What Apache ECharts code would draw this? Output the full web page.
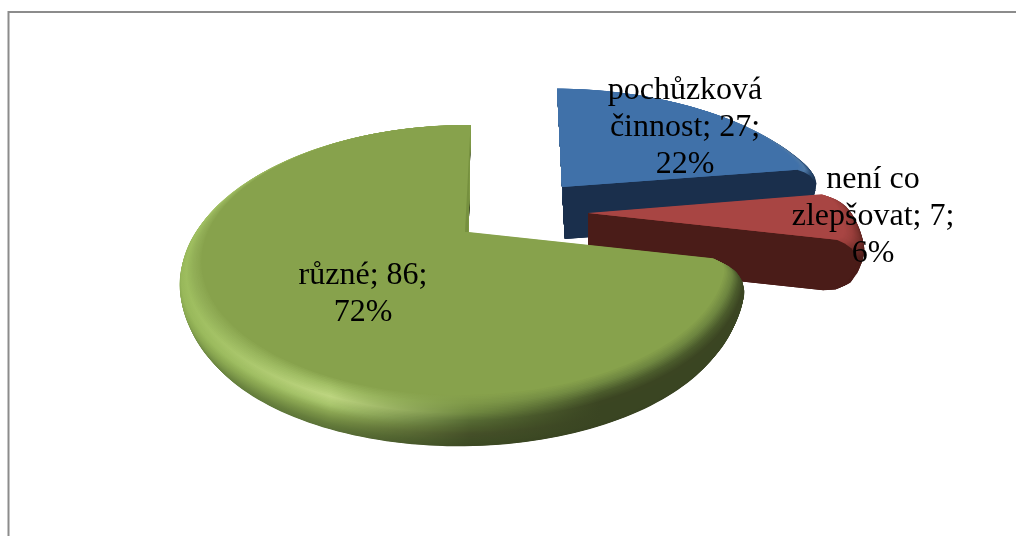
<!DOCTYPE html>
<html><head><meta charset="utf-8">
<style>html,body{margin:0;padding:0;background:#fff}#c{width:1016px;height:536px}</style>
<script src="https://cdn.jsdelivr.net/npm/echarts@6/dist/echarts.min.js"></script>
</head><body><div id="c"></div>
<script>
const categories = ['pochůzková činnost', 'není co zlepšovat', 'různé'];
const values = [27, 7, 86];
const percents = [22, 6, 72];

// Appearance and layout of the tilted 3D pie
const FONT = '"Liberation Serif","Times New Roman",serif';
const labelLines = [['pochůzková', 'činnost; {v};', '{p}%'], ['není co', 'zlepšovat; {v};', '{p}%'], ['různé; {v};', '{p}%']];
const labelAt = [[685, 128], [873, 217], [363, 294]];
const apexAt = [[562, 187], [588, 213], [468.5, 232]];
const sliceScaleY = [0.92, 1, 1];
const sliceLean = [6, 0, -2.5];
const sliceShear = [0.052, 0, -0.015];
const sliceRound = [0.025, 0.035, 0.05];
const roundEnds = [[false, true], [true, true], [true, false]];
const ROUND_DEG = 6;
const RX = 256.5, RY = 129.2, K = 0.2075, M = 0.016;
const rimZ = [52, 50, 45, 35, 25, 18, 12, 7, 3, 0];
const rimR = [0.95, 0.995, 1.03, 1.055, 1.07, 1.075, 1.07, 1.055, 1.03, 1.0];
const greenX = [180, 330, 470, 600, 745];
const greenShades = [
  ['#63803c', '#566a35', '#3a4722', '#363f20', '#363f20'],
  ['#63803c', '#566a35', '#3a4722', '#363f20', '#363f20'],
  ['#678540', '#5a7037', '#3c4923', '#384221', '#384221'],
  ['#6f8a42', '#637a3a', '#3f4d25', '#3a4522', '#3a4522'],
  ['#7f9c4c', '#768f45', '#454f28', '#3a4522', '#3a4522'],
  ['#8cab52', '#8aa552', '#4c5c2c', '#3a4522', '#3a4522'],
  ['#98b85a', '#a8c56c', '#566a33', '#3b4522', '#3b4522'],
  ['#9cbc5d', '#bdd580', '#6f8840', '#4a5a2b', '#4a5a2b'],
  ['#90ad55', '#a5c268', '#7e9848', '#6e8640', '#6e8640'],
  ['#87a24c', '#87a24c', '#87a24c', '#87a24c', '#87a24c']
];
const flatFill = ['#4071a9', '#a84543', '#87a24c'];
const faceFill = ['#1a2f4c', '#4a1c18', '#3a4522'];
const sideShades = [
  ['#1a2f4c', '#1a2f4c', '#1a2f4c', '#1a2f4c', '#1a2f4c', '#1a2f4c', '#1f3756', '#2b4c74', '#4f7aa8', '#4071a9'],
  ['#4a1c18', '#4a1c18', '#4a1c18', '#4a1c18', '#4a1c18', '#4f1e1a', '#642723', '#7e332f', '#9a3f3c', '#a84543']
];
const edgeStrip = '#76903f';

function project(i, deg, r, z) {
  const a = deg * Math.PI / 180, x = Math.sin(a) * r, y = -Math.cos(a) * r;
  const w = 1 - K * y + M * x;
  return [apexAt[i][0] + (RX * x + sliceLean[i] * y) / w + sliceShear[i] * z,
          apexAt[i][1] + RY * sliceScaleY[i] * y / w + z];
}
function cornerCut(i, d) {
  if (d >= ROUND_DEG) return 0;
  const u = (ROUND_DEG - d) / ROUND_DEG;
  return sliceRound[i] * (1 - Math.sqrt(1 - u * u));
}
function sector(i, a0, a1, r, z) {
  const pts = [project(i, 0, 0, z)];
  const n = Math.ceil((a1 - a0) / 1.5);
  for (let j = 0; j <= n; j++) {
    const a = a0 + (a1 - a0) * j / n;
    let cut = 0;
    if (roundEnds[i][0]) cut = Math.max(cut, cornerCut(i, a - a0));
    if (roundEnds[i][1]) cut = Math.max(cut, cornerCut(i, a1 - a));
    pts.push(project(i, a, r - cut, z));
  }
  return pts;
}
function polygon(points, fill) {
  return { type: 'polygon', shape: { points }, style: { fill, stroke: null }, silent: true };
}
const total = values.reduce((s, v) => s + v, 0);
const SUB = 6;

function renderItem(params, api) {
  const i = params.dataIndex;
  const value = api.value(0);
  let before = 0;
  for (let j = 0; j < i; j++) before += values[j];
  const a0 = before / total * 360, a1 = (before + value) / total * 360;
  const children = [];
  for (let c = 0; c < rimZ.length - 1; c++) {
    for (let s = 0; s < SUB; s++) {
      const t = s / SUB;
      const z = rimZ[c] + (rimZ[c + 1] - rimZ[c]) * t;
      const r = rimR[c] + (rimR[c + 1] - rimR[c]) * t;
      let fill;
      if (i === 2) {
        fill = {
          type: 'linear', global: true, x: greenX[0], y: 0, x2: greenX[4], y2: 0,
          colorStops: greenX.map((gx, q) => ({
            offset: (gx - greenX[0]) / (greenX[4] - greenX[0]),
            color: echarts.color.lerp(t, [greenShades[c][q], greenShades[c + 1][q]])
          }))
        };
      } else {
        fill = echarts.color.lerp(t, [sideShades[i][c], sideShades[i][c + 1]]);
      }
      children.push(polygon(sector(i, a0, a1, r, z), fill));
    }
  }
  if (i < 2) {
    const face = [project(i, a1, 0, 0)];
    for (let c = rimZ.length - 1; c >= 0; c--) face.push(project(i, a1, rimR[c] - sliceRound[i], rimZ[c]));
    face.push(project(i, a1, 0, rimZ[0]));
    children.push(polygon(face, faceFill[i]));
  }
  children.push(polygon(sector(i, a0, a1, 1, 0), flatFill[i]));
  if (i === 2) {
    const top = project(i, a1, 1, 0), apex = project(i, a1, 0, 0);
    children.push(polygon([top, apex, [apex[0] - 3.5, apex[1]]], edgeStrip));
  }
  return { type: 'group', children };
}

function renderLabel(params, api) {
  const i = params.dataIndex;
  const text = labelLines[i].map(l => l.replace('{v}', values[i]).replace('{p}', percents[i])).join('\n');
  return {
    type: 'text', x: labelAt[i][0], y: labelAt[i][1], silent: true,
    style: { text, fill: '#000', font: '32px ' + FONT, lineHeight: 37, align: 'center', verticalAlign: 'middle' }
  };
}

const data = values.map((v, i) => ({ name: categories[i], value: v }));
const chart = echarts.init(document.getElementById('c'), null, { renderer: 'canvas' });
chart.setOption({
  animation: false,
  backgroundColor: '#fff',
  graphic: [
    { type: 'line', shape: { x1: 8.5, y1: 12, x2: 1016, y2: 12 }, style: { stroke: '#8c8c8c', lineWidth: 2 } },
    { type: 'line', shape: { x1: 8.5, y1: 11, x2: 8.5, y2: 536 }, style: { stroke: '#8c8c8c', lineWidth: 2 } }
  ],
  series: [
    { type: 'custom', coordinateSystem: 'none', renderItem, data, silent: true, z: 2 },
    { type: 'custom', coordinateSystem: 'none', renderItem: renderLabel, data, silent: true, z: 3 }
  ]
});
</script></body></html>
